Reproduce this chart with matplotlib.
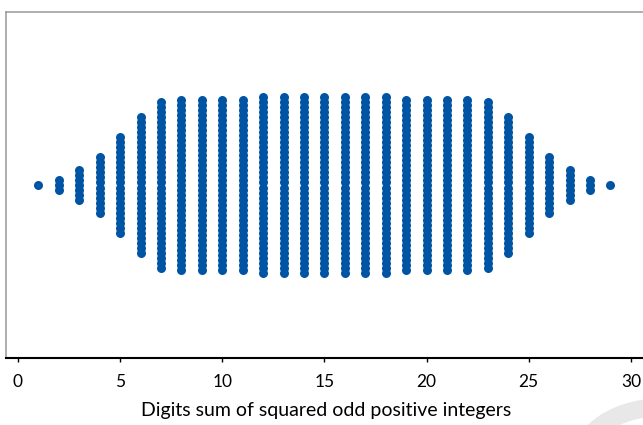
import numpy as np
import matplotlib
matplotlib.use("Agg")
from matplotlib import pyplot as plt
from matplotlib.patches import Circle

# digit sums on the x axis and how many points each column holds
digit_sums = list(range(1, 30))
counts = [1, 3, 7, 12, 20, 28, 34, 35, 35, 35, 35, 36, 36, 36, 36, 36, 36, 36,
          35, 35, 35, 35, 34, 28, 20, 12, 7, 3, 1]
x_ticks = [0, 5, 10, 15, 20, 25, 30]
x_label = 'Digits sum of squared odd positive integers'

plt.rcParams['font.family'] = ['Lato', 'DejaVu Sans']

fig = plt.figure(figsize=(6.43, 4.25), dpi=100)
ax = fig.add_axes([6 / 643, 67 / 425, 640 / 643, 346 / 425])

# stack the points of each column symmetrically around the centre line
step = 0.029
xs, ys = [], []
for v, n in zip(digit_sums, counts):
    offs = (np.arange(n) - (n - 1) / 2) * step
    xs.extend([v] * n)
    ys.extend(offs)

ax.scatter(xs, ys, s=42, color='#0054a4', linewidths=0, zorder=3)

ax.set_xlim(-0.587, -0.587 + 640 / 20.43)
ax.set_ylim(-1, 1)
ax.set_xticks(x_ticks)
ax.set_yticks([])
ax.tick_params(axis='x', direction='out', length=3, width=1, color='black',
               labelsize=12.5, pad=8.5)
ax.set_xlabel(x_label, fontsize=14, labelpad=9)

for side in ['top', 'left']:
    ax.spines[side].set_color('#999999')
    ax.spines[side].set_linewidth(1.1)
ax.spines['right'].set_visible(False)
ax.spines['bottom'].set_color('black')
ax.spines['bottom'].set_linewidth(1.5)

# faint watermark ring in the lower right corner
ring = Circle((663 / 643, 1 - 462 / 425), 83 / 643, transform=fig.transFigure,
              fill=False, edgecolor='#e8e8e8', linewidth=13, zorder=0)
fig.patches.append(ring)

fig.savefig('out.png', dpi=100)
